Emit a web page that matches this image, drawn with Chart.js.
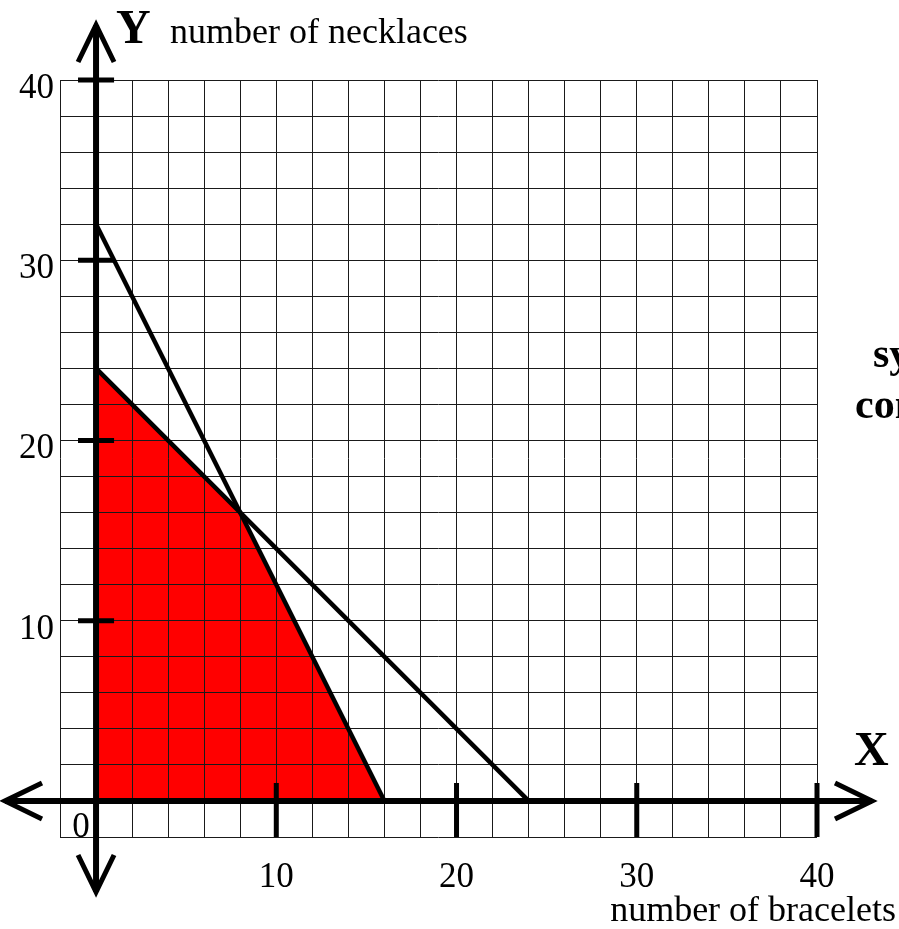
<!DOCTYPE html>
<html>
<head>
<meta charset="utf-8">
<script src="https://cdn.jsdelivr.net/npm/chart.js@4/dist/chart.umd.min.js"></script>
<style>
  html, body { margin: 0; padding: 0; background: #fff; }
  #wrap { width: 899px; height: 929px; }
</style>
</head>
<body>
<div id="wrap"><canvas id="c" width="899" height="929"></canvas></div>
<script>
// ---- data ----
const constraintA = [{x: 0, y: 32}, {x: 16, y: 0}];   // 2x + y = 32
const constraintB = [{x: 0, y: 24}, {x: 24, y: 0}];   // x + y = 24
const feasibleTop = [{x: 0, y: 24}, {x: 8, y: 16}, {x: 16, y: 0}];
const xTickValues = [10, 20, 30, 40];
const yTickValues = [10, 20, 30, 40];
const xTitle = 'number of bracelets';
const yTitle = 'number of necklaces';
const sideText = ['sy', 'con'];

const SERIF = '"Liberation Serif", "DejaVu Serif", serif';

const axesPlugin = {
  id: 'axesPlugin',
  afterDatasetsDraw(chart) {
    const ctx = chart.ctx;
    const xs = chart.scales.x, ys = chart.scales.y;
    const ca = chart.chartArea;
    const x0 = xs.getPixelForValue(0);
    const y0 = ys.getPixelForValue(0);
    ctx.save();
    ctx.strokeStyle = '#000';
    ctx.lineCap = 'butt';
    // axes
    ctx.lineWidth = 6;
    ctx.beginPath();
    ctx.moveTo(x0, ca.top - 55); ctx.lineTo(x0, ca.bottom + 55);
    ctx.moveTo(ca.left - 55, y0); ctx.lineTo(ca.right + 55, y0);
    ctx.stroke();
    // arrowheads
    ctx.lineWidth = 5;
    ctx.lineJoin = 'miter';
    const L = 37, W = 18;
    ctx.beginPath();
    let t = ca.top - 55;
    ctx.moveTo(x0 - W, t + L); ctx.lineTo(x0, t); ctx.lineTo(x0 + W, t + L);
    t = ca.bottom + 55;
    ctx.moveTo(x0 - W, t - L); ctx.lineTo(x0, t); ctx.lineTo(x0 + W, t - L);
    t = ca.left - 55;
    ctx.moveTo(t + L, y0 - W); ctx.lineTo(t, y0); ctx.lineTo(t + L, y0 + W);
    t = ca.right + 55;
    ctx.moveTo(t - L, y0 - W); ctx.lineTo(t, y0); ctx.lineTo(t - L, y0 + W);
    ctx.stroke();
    // ticks
    ctx.lineWidth = 5;
    ctx.beginPath();
    xTickValues.forEach(v => {
      const px = xs.getPixelForValue(v);
      ctx.moveTo(px, ys.getPixelForValue(1)); ctx.lineTo(px, ys.getPixelForValue(-2));
    });
    yTickValues.forEach(v => {
      const py = ys.getPixelForValue(v);
      ctx.moveTo(xs.getPixelForValue(-1), py); ctx.lineTo(xs.getPixelForValue(1), py);
    });
    ctx.stroke();
    // tick labels
    ctx.fillStyle = '#000';
    ctx.font = '35px ' + SERIF;
    ctx.textBaseline = 'alphabetic';
    ctx.textAlign = 'center';
    xTickValues.forEach(v => {
      ctx.fillText(String(v), xs.getPixelForValue(v), 887);
    });
    ctx.fillText('0', x0 - 15, ys.getPixelForValue(-2));
    ctx.textAlign = 'right';
    yTickValues.forEach(v => {
      ctx.fillText(String(v), 54, ys.getPixelForValue(v) + 18);
    });
    // titles
    ctx.textAlign = 'left';
    ctx.font = 'bold 48px ' + SERIF;
    ctx.fillText('Y', 116, 43);
    ctx.fillText('X', 854, 765);
    ctx.font = '36px ' + SERIF;
    ctx.fillText(yTitle, 170, 43);
    ctx.textAlign = 'right';
    ctx.fillText(xTitle, 896, 921);
    // partially visible side text
    ctx.textAlign = 'left';
    ctx.font = 'bold 42px ' + SERIF;
    ctx.fillText(sideText[0], 873, 367);
    ctx.fillText(sideText[1], 855, 418);
    ctx.restore();
  }
};

new Chart(document.getElementById('c'), {
  type: 'scatter',
  data: {
    datasets: [
      {
        data: feasibleTop,
        showLine: true,
        borderWidth: 0,
        borderColor: 'rgba(0,0,0,0)',
        backgroundColor: '#ff0000',
        fill: 'origin',
        pointRadius: 0
      },
      {
        data: constraintA,
        showLine: true,
        borderColor: '#000',
        borderWidth: 4.5,
        pointRadius: 0,
        fill: false
      },
      {
        data: constraintB,
        showLine: true,
        borderColor: '#000',
        borderWidth: 4.5,
        pointRadius: 0,
        fill: false
      }
    ]
  },
  options: {
    responsive: false,
    animation: false,
    devicePixelRatio: 1,
    layout: { padding: { left: 60, top: 80, right: 82, bottom: 92 } },
    plugins: {
      legend: { display: false },
      tooltip: { enabled: false },
      filler: { drawTime: 'beforeDraw' }
    },
    scales: {
      x: {
        type: 'linear',
        min: -2, max: 40,
        ticks: { display: false, stepSize: 2 },
        grid: { color: '#1a1a1a', lineWidth: 1, drawTicks: false },
        border: { display: false }
      },
      y: {
        type: 'linear',
        min: -2, max: 40,
        ticks: { display: false, stepSize: 2 },
        grid: { color: '#1a1a1a', lineWidth: 1, drawTicks: false },
        border: { display: false }
      }
    }
  },
  plugins: [axesPlugin]
});
</script>
</body>
</html>
